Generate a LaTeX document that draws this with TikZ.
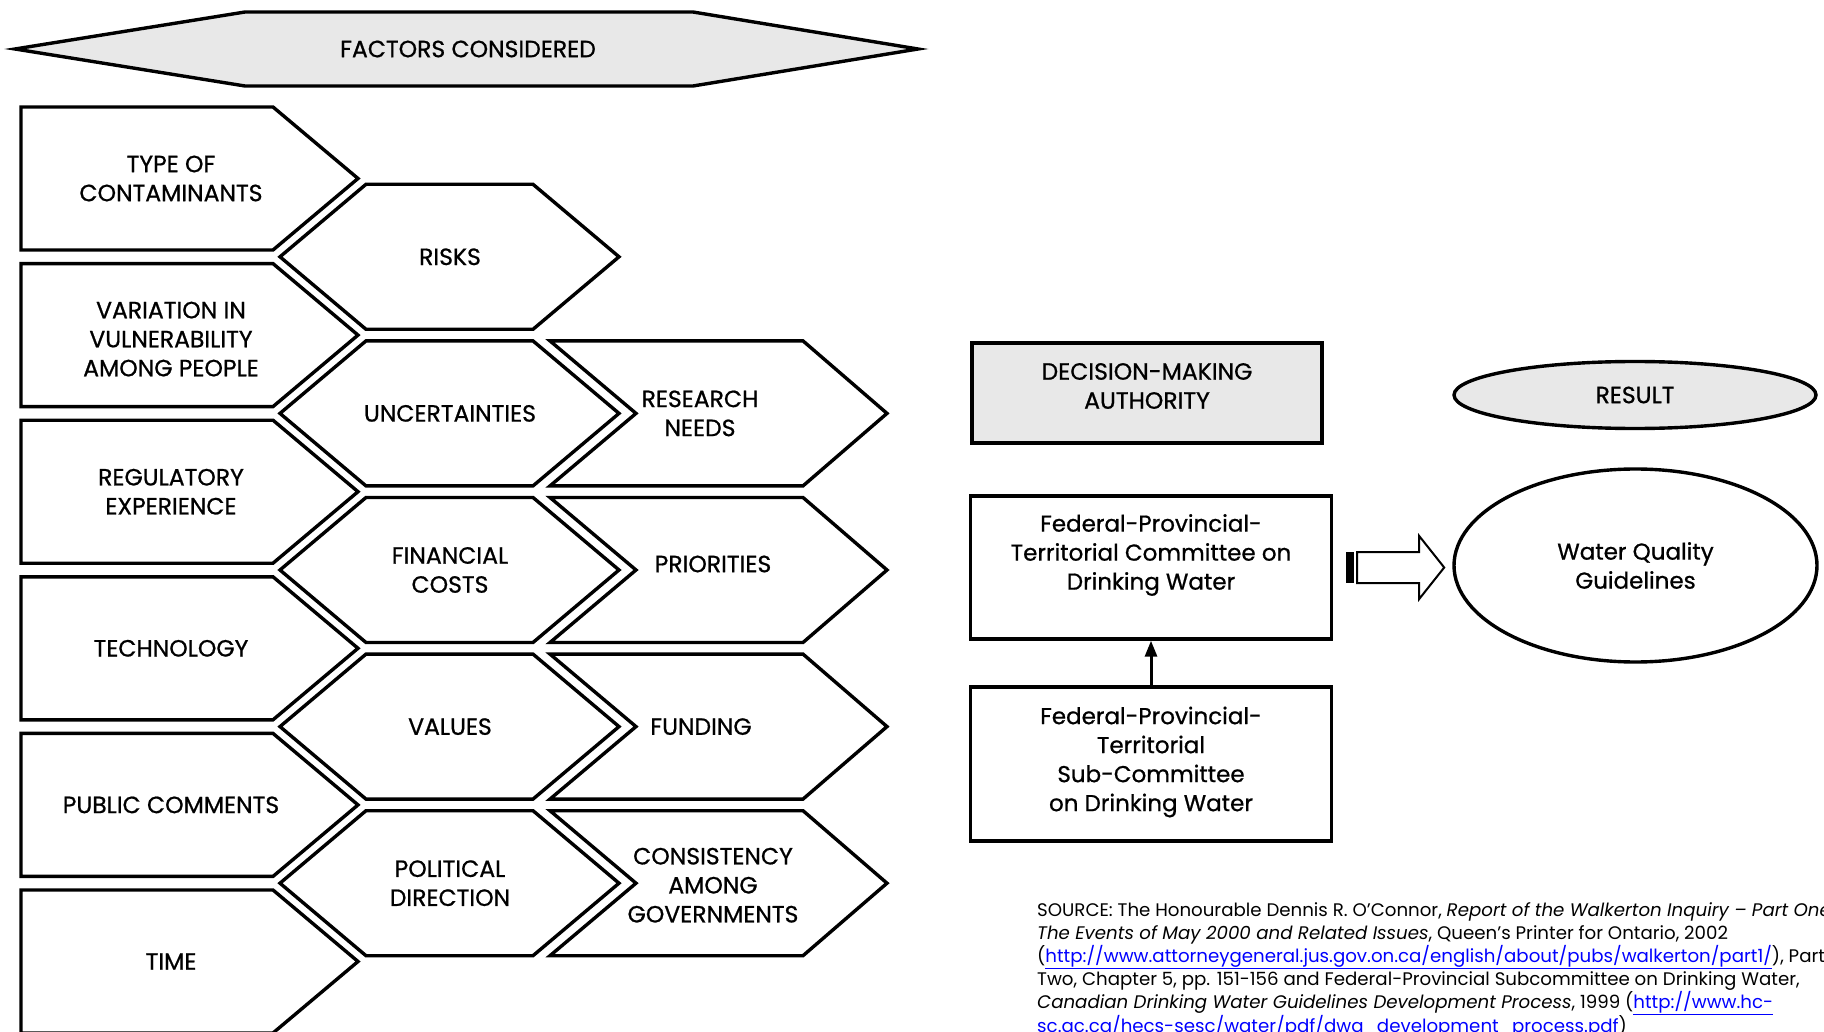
\documentclass[tikz,border=0pt]{standalone}
\usepackage{fontspec}
\setmainfont{Poppins}
\newfontfamily\tagfont[FakeBold=0.8]{Poppins}
\usetikzlibrary{calc,shapes.geometric,arrows.meta}
\definecolor{panelgray}{RGB}{232,232,232}
\definecolor{linkblue}{RGB}{0,0,255}
\newcommand{\weblink}[1]{\textcolor{linkblue}{\underline{#1}}}

\begin{document}
\begin{tikzpicture}[x=1pt,y=-1pt,
  every node/.style={inner sep=0pt,align=center,font=\tagfont\fontsize{23.5}{29}\selectfont},
  mixed/.style={font=\tagfont\fontsize{23}{29}\selectfont},
  factor/.style={draw,line width=3.4pt,fill=white},
  panel/.style={draw,line width=3.4pt,fill=white}]
  \useasboundingbox (0,0) rectangle (1824,1032);
  % banner
  \draw[factor,fill=panelgray] (15,49) -- (245,12) -- (693,12) -- (918,49) -- (693,86) -- (245,86) -- cycle;
  \node (head) at (468,49) {FACTORS CONSIDERED};
  % factors, left column
  \foreach \lbl/\dy [count=\i from 0] in {TYPE OF\\CONTAMINANTS/0,VARIATION IN\\VULNERABILITY\\AMONG PEOPLE/4,
    REGULATORY\\EXPERIENCE/0,TECHNOLOGY/0,PUBLIC COMMENTS/0,TIME/0}{
    \pgfmathsetmacro\t{107+156.6*\i}
    \draw[factor] (21,\t) -- ++(252,0) -- ++(85,71.5) -- ++(-85,71.5) -- ++(-252,0) -- cycle;
    \node (f\i) at (171,\t+71.5+\dy) {\lbl};
  }
  % middle column
  \foreach \lbl [count=\j from 0] in {RISKS,UNCERTAINTIES,FINANCIAL\\COSTS,VALUES,POLITICAL\\DIRECTION}{
    \pgfmathsetmacro\h{256.8+156.6*\j}
    \draw[factor] (280,\h) -- (366,\h-72.5) -- (533,\h-72.5) -- (619,\h) -- (533,\h+72.5) -- (366,\h+72.5) -- cycle;
    \node (m\j) at (450,\h) {\lbl};
  }
  % right column
  \foreach \lbl/\x/\dy [count=\j from 1] in {RESEARCH\\NEEDS/700/0,PRIORITIES/713/-6,FUNDING/701/0,
    CONSISTENCY\\AMONG\\GOVERNMENTS/713/2}{
    \pgfmathsetmacro\h{256.8+156.6*\j}
    \draw[factor] (550,\h-72.5) -- (803,\h-72.5) -- (887,\h) -- (803,\h+72.5) -- (550,\h+72.5) -- (636,\h) -- cycle;
    \node (r\j) at (\x,\h+\dy) {\lbl};
  }
  % decision making side
  \node[panel,fill=panelgray,minimum width=350,minimum height=100] (dma) at (1147,393) {};
  \node (dmatext) at (1147,386) {DECISION-MAKING\\AUTHORITY};
  \node[panel,ellipse,fill=panelgray,minimum width=362,minimum height=67] (result) at (1635,395) {RESULT};
  \node[panel,minimum width=361,minimum height=143] (fptc) at (1151,567.5) {};
  \node[mixed] (fptctext) at (1151,555) {Federal-Provincial-\\Territorial Committee on\\Drinking Water};
  \node[panel,minimum width=361,minimum height=154] (fpts) at (1151,764) {};
  \node[mixed] (fptstext) at (1151,762) {Federal-Provincial-\\Territorial\\Sub-Committee\\on Drinking Water};
  \node[panel,mixed,ellipse,minimum width=363,minimum height=193] (wqg) at (1635.5,565.5) {Water Quality\\Guidelines};
  \draw[line width=3pt,-{Triangle[length=16pt,width=12pt]}] (fpts.north) -- (fptc.south);
  \coordinate (passtail) at ($(fptc.east)+(24,0)$);
  \draw[line width=2pt] (passtail) ++(0,-15.5) -- ++(62,0) -- ++(0,-16) -- ++(25,31.5)
    -- ++(-25,31.5) -- ++(0,-16) -- ++(-62,0) -- cycle;
  \fill ($(passtail)+(-11,-15.5)$) rectangle ($(passtail)+(-3,15.5)$);
  % source
  \node[anchor=north west,align=left,font=\fontsize{18.2}{23}\selectfont] (source) at (1037,902) {%
    SOURCE: The Honourable Dennis R. O’Connor, \textit{Report of the Walkerton Inquiry – Part One:}\\
    \textit{The Events of May 2000 and Related Issues}, Queen’s Printer for Ontario, 2002\\
    (\weblink{http://www.attorneygeneral.jus.gov.on.ca/english/about/pubs/walkerton/part1/}), Part\\
    Two, Chapter 5, pp. 151-156 and Federal-Provincial Subcommittee on Drinking Water,\\
    \textit{Canadian Drinking Water Guidelines Development Process}, 1999 (\weblink{http://www.hc-}\\
    \weblink{sc.gc.ca/hecs-sesc/water/pdf/dwg\_development\_process.pdf})};
\end{tikzpicture}
\end{document}
